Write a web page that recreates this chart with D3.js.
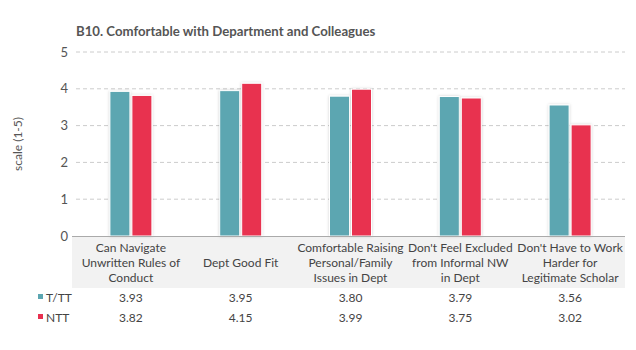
<!DOCTYPE html>
<html><head><meta charset="utf-8">
<script src="https://cdn.jsdelivr.net/npm/d3@7"></script>
<style>
body{margin:0;background:#fff;}
text{font-family:Lato,"Open Sans",sans-serif;}
</style></head>
<body>
<svg id="chart" width="636" height="350"></svg>
<script>
const title = "B10. Comfortable with Department and Colleagues";
const categories = [
  ["Can Navigate","Unwritten Rules of","Conduct"],
  ["Dept Good Fit"],
  ["Comfortable Raising","Personal/Family","Issues in Dept"],
  ["Don't Feel Excluded","from Informal NW","in Dept"],
  ["Don't Have to Work","Harder for","Legitimate Scholar"]
];
const seriesNames = ["T/TT","NTT"];
const seriesColors = ["#5ba6b1","#e8304f"];
const ttt = [3.93,3.95,3.80,3.79,3.56];
const ntt = [3.82,4.15,3.99,3.75,3.02];
const yTicks = [0,1,2,3,4,5];
const yLabel = "scale (1-5)";

const svg = d3.select("#chart");
const mLeft = 76, mRight = 625, mTop = 52, mBottom = 236;
const x = d3.scaleBand().domain(d3.range(categories.length)).range([mLeft,mRight]);
const y = d3.scaleLinear().domain([0,5]).range([mBottom,mTop]);

const defs = svg.append("defs");
const f = defs.append("filter").attr("id","sh").attr("x","-30%").attr("y","-10%").attr("width","160%").attr("height","120%");
f.append("feDropShadow").attr("dx",0).attr("dy",0).attr("stdDeviation",1.6).attr("flood-color","#000").attr("flood-opacity",0.18);

// title
svg.append("text").attr("x",76).attr("y",36).attr("font-size",13.2).attr("font-weight","bold").attr("fill","#555").text(title);

// table background
svg.append("rect").attr("x",72).attr("y",237).attr("width",553).attr("height",51).attr("fill","#f2f2f2");

// grid
svg.append("g").selectAll("line").data(yTicks.filter(d=>d>0)).join("line")
  .attr("x1",mLeft).attr("x2",mRight).attr("y1",d=>y(d)).attr("y2",d=>y(d))
  .attr("stroke","#cccccc").attr("stroke-dasharray","4,3").attr("stroke-width",1);

// y axis labels
const ya = svg.append("g").attr("transform",`translate(${mLeft-8},0)`)
  .call(d3.axisLeft(y).tickValues(yTicks).tickSize(0).tickPadding(0).tickFormat(d3.format("d")));
ya.select(".domain").remove();
ya.selectAll("text").attr("font-size",13).attr("fill","#555").attr("font-family","Lato,'Open Sans',sans-serif");

svg.append("text").attr("transform",`translate(22,${(mTop+mBottom)/2}) rotate(-90)`)
  .attr("text-anchor","middle").attr("font-size",12).attr("fill","#555").text(yLabel);

// bars
const bw = 20, gap = 2;
const data = [ttt, ntt];
data.forEach((vals,si)=>{
  svg.append("g").selectAll("rect").data(vals).join("rect")
    .attr("x",(d,i)=>x(i)+x.bandwidth()/2 + (si===0 ? -bw-gap/2 : gap/2))
    .attr("y",d=>y(d)).attr("width",bw).attr("height",d=>mBottom-y(d))
    .attr("fill",seriesColors[si]).attr("stroke","#fff").attr("stroke-width",1)
    .attr("filter","url(#sh)");
});

// baseline
svg.append("line").attr("x1",mLeft-4).attr("x2",mRight).attr("y1",mBottom+0.5).attr("y2",mBottom+0.5)
  .attr("stroke","#aaa").attr("stroke-width",1.2);

// category labels
const cg = svg.append("g");
categories.forEach((lines,i)=>{
  const cx = x(i)+x.bandwidth()/2;
  const n = lines.length;
  const startY = 252 + (3-n)*7.5;
  lines.forEach((l,j)=>{
    cg.append("text").attr("x",cx).attr("y",startY+j*15).attr("text-anchor","middle")
      .attr("font-size",12).attr("fill","#444").text(l);
  });
});

// table rows
data.forEach((vals,si)=>{
  const ry = 302 + si*20;
  svg.append("rect").attr("x",38).attr("y",ry-8).attr("width",5).attr("height",5).attr("fill",seriesColors[si]);
  svg.append("text").attr("x",46).attr("y",ry).attr("font-size",12).attr("fill","#444").text(seriesNames[si]);
  svg.append("g").selectAll("text").data(vals).join("text")
    .attr("x",(d,i)=>x(i)+x.bandwidth()/2).attr("y",ry).attr("text-anchor","middle")
    .attr("font-size",12).attr("fill","#444").text(d=>d3.format(".2f")(d));
});
</script>
</body></html>
